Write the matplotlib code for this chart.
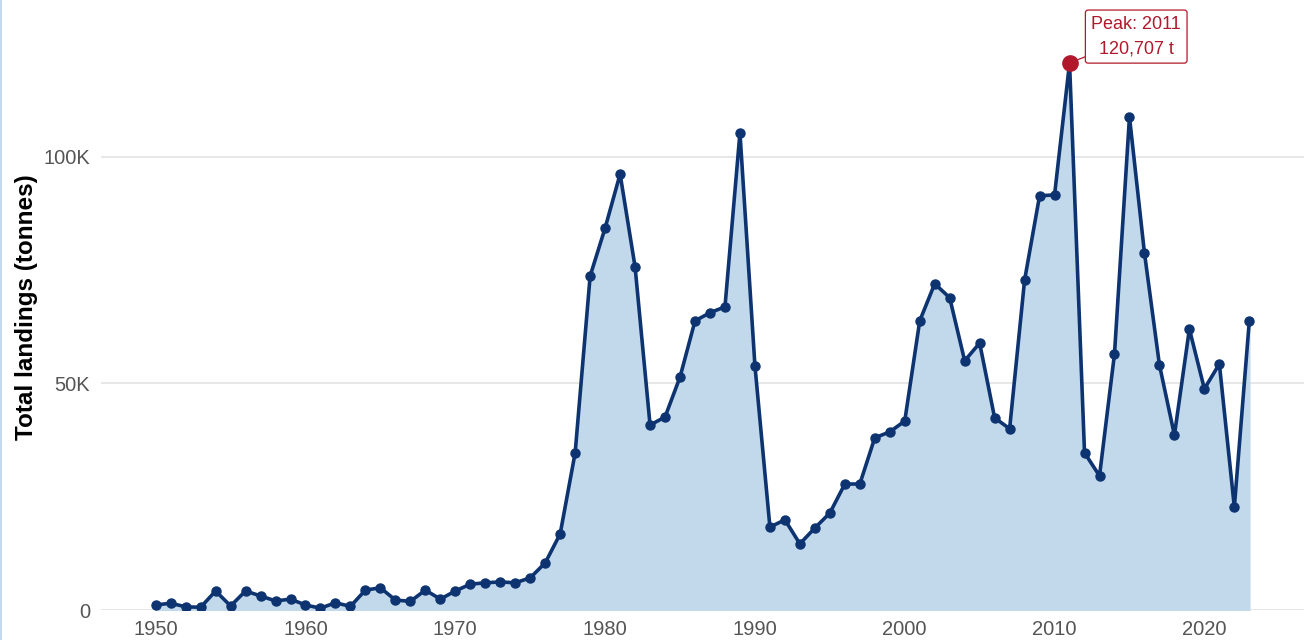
import numpy as np
import matplotlib.pyplot as plt
from matplotlib.lines import Line2D

plt.rcParams['font.family'] = ['Liberation Sans', 'DejaVu Sans']

# landings per year (thousand tonnes)
years = list(range(1950, 2024))
landings_k = [1.1, 1.5, 0.7, 0.6, 4.2, 0.9, 4.2, 3.1, 2.0, 2.4,
              1.1, 0.4, 1.6, 0.8, 4.4, 4.9, 2.2, 1.9, 4.4, 2.4,
              4.2, 5.7, 6.0, 6.2, 6.0, 7.1, 10.4, 16.8, 34.7, 73.7,
              84.3, 96.2, 75.7, 40.8, 42.6, 51.4, 63.8, 65.6, 66.9, 105.3,
              53.9, 18.3, 19.9, 14.6, 18.1, 21.4, 27.8, 27.8, 38.0, 39.3,
              41.7, 63.8, 72.0, 68.9, 55.0, 58.9, 42.4, 40.0, 72.8, 91.4,
              91.6, 120.707, 34.7, 29.6, 56.5, 108.8, 78.8, 54.1, 38.6, 62.0,
              48.8, 54.3, 22.7, 63.8]
ytick_vals = [0, 50000, 100000]
ytick_labels = ['0', '50K', '100K']
xtick_vals = [1950, 1960, 1970, 1980, 1990, 2000, 2010, 2020]

x = np.array(years)
y = np.array(landings_k) * 1000

navy = '#0d3470'
fill = '#c2d8eb'
red = '#b2182b'

fig = plt.figure(figsize=(13.06, 6.4), dpi=100)
ax = fig.add_axes([101/1306, 30/640, 1203/1306, 605/640])

ax.fill_between(x, 0, y, color=fill, zorder=1)
ax.plot(x, y, color=navy, lw=2.6, marker='o', ms=6.5, zorder=3)

# peak
i = int(np.argmax(y))
ax.plot(x[i], y[i], 'o', color=red, ms=11, zorder=4)
ax.annotate('Peak: {}\n{:,} t'.format(x[i], int(round(y[i]))),
            xy=(x[i], y[i]), xytext=(48, 19), textcoords='offset points',
            ha='center', va='center', fontsize=13, color=red, linespacing=1.55,
            bbox=dict(boxstyle='round,pad=0.33,rounding_size=0.15', fc='white', ec=red, lw=0.9),
            arrowprops=dict(arrowstyle='-', color=red, lw=0.9, shrinkA=0, shrinkB=5),
            zorder=5)

pad = 0.05 * (x.max() - x.min())
ax.set_xlim(x.min() - pad, x.max() + pad)
ax.set_ylim(0, 133500)
ax.set_yticks(ytick_vals)
ax.set_yticklabels(ytick_labels)
ax.set_xticks(xtick_vals)
ax.tick_params(axis='both', length=0, labelsize=14.5, labelcolor='#555555')
ax.tick_params(axis='x', pad=7)
ax.tick_params(axis='y', pad=8)
ax.grid(axis='y', color='#e3e3e3', lw=1.2, zorder=0)
ax.set_axisbelow(True)
for s in ax.spines.values():
    s.set_visible(False)
ax.set_ylabel('Total landings (tonnes)', fontsize=17.5, fontweight='bold', labelpad=4)

# faint left border line
fig.add_artist(Line2D([0.5/1306, 0.5/1306], [0, 1], color='#c6d8ee', lw=1.5))

plt.savefig('out.png', dpi=100)
